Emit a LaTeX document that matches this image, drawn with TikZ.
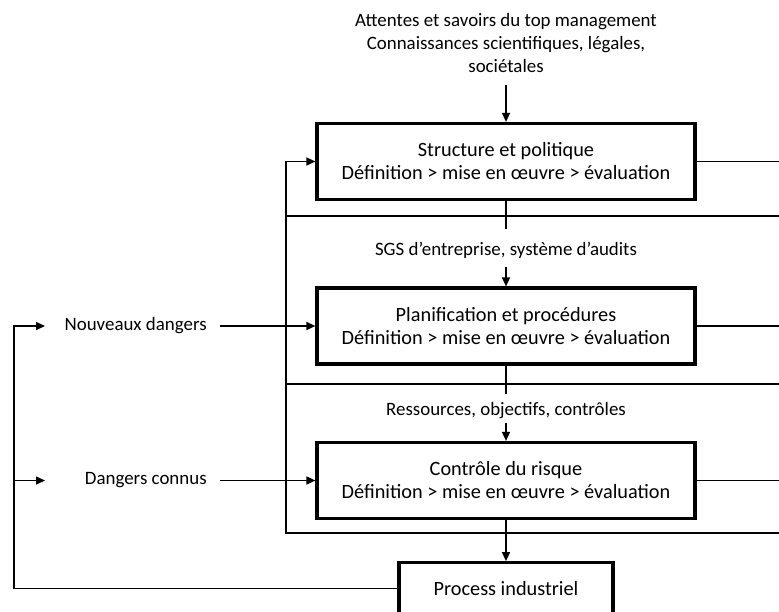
\documentclass[tikz,border=0pt]{standalone}
\usepackage{fontspec}
\setmainfont{Carlito}
\usetikzlibrary{positioning, arrows.meta}

\begin{document}
\begin{tikzpicture}[x=1pt,y=-1pt,->,>={Triangle[length=9pt,width=8pt]},line width=1.5pt,
    font=\fontsize{20.3}{23}\selectfont,
    box node/.style={draw,line width=3.2pt,minimum width=378pt,minimum height=76pt,align=center},
    label node/.style={align=center,inner sep=2pt,font=\fontsize{18.9}{23}\selectfont}]
\useasboundingbox (0,0) rectangle (779,611);

% the four boxes
\node[box node]                           (struct) at (506,161.5)  {Structure et politique\\Définition > mise en œuvre > évaluation};
\node[box node, below=85.3pt of struct]   (plan)                   {Planification et procédures\\Définition > mise en œuvre > évaluation};
\node[box node, below=75.3pt of plan]     (ctrl)                   {Contrôle du risque\\Définition > mise en œuvre > évaluation};
\node[box node, below=41pt of ctrl, minimum width=214pt, minimum height=52pt] (proc) {Process industriel};

% inputs
\node[label node]  (inputs)  [above=47pt of struct]    {Attentes et savoirs du top management\\Connaissances scientifiques, légales,\\sociétales};
\node[label node]  (sgs)     [above=24.8pt of plan]    {SGS d’entreprise, système d’audits};
\node[label node]  (res)     [above=19.1pt of ctrl]    {Ressources, objectifs, contrôles};
\node[label node]  (new)     [left=106pt of plan]      {Nouveaux dangers};
\node[label node]  (known)   [left=106pt of ctrl]      {Dangers connus};

\coordinate (s1) at (506,229);
\coordinate (s2) at (506,394);
\coordinate (fb) at (286,533);
\coordinate (h1) at (286,216);
\coordinate (h2) at (286,384);
\coordinate (lp) at (14,480.5);
\coordinate (lt) at (14,326);

\path
(inputs) edge[shorten <=10pt] (struct)
(sgs)    edge[shorten <=5.5pt] (plan)
(res)    edge[shorten <=1pt] (ctrl)
(ctrl)   edge (proc)
(new)    edge[shorten <=11pt] (plan)
(known)  edge[shorten <=11pt] (ctrl);

\draw[-] (struct.south) -- (s1);
\draw[-] (plan.south) -- (s2);
\draw[-] (struct.east) -- ++(100,0);
\draw[-] (plan.east) -- ++(100,0);
\draw[-] (ctrl.east) -- ++(100,0);
\draw[-] (h1) -- ++(600,0);
\draw[-] (h2) -- ++(600,0);
\draw ([xshift=600pt]fb) -- (fb) |- (struct.west);
\draw (proc.west) -| (lt) -- ++(31,0);
\draw (lp) -- ++(31,0);
\end{tikzpicture}
\end{document}
